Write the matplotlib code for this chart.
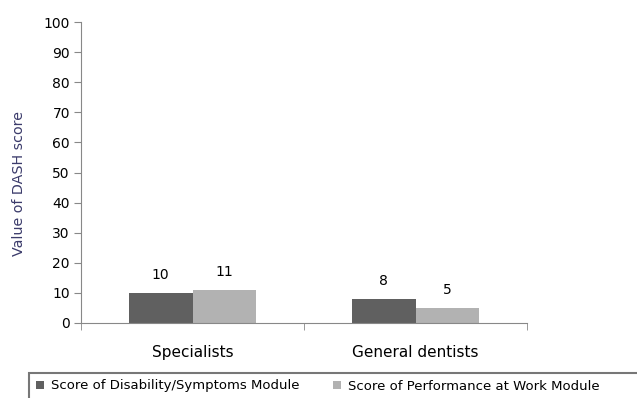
import matplotlib.pyplot as plt
from matplotlib.patches import Rectangle
import numpy as np

categories = ['Specialists', 'General dentists']
disability = [10, 8]
performance = [11, 5]
series_names = ['Score of Disability/Symptoms Module', 'Score of Performance at Work Module']
colors = ['#606060', '#b2b2b2']

fig = plt.figure(figsize=(6.37, 3.98), dpi=100)
ax = fig.add_axes([81/637, 1-323/398, 446/637, 301/398])

x = np.arange(len(categories))
w = 0.285
b1 = ax.bar(x - w/2, disability, w, color=colors[0], label=series_names[0])
b2 = ax.bar(x + w/2, performance, w, color=colors[1], label=series_names[1])
for bars, vals in ((b1, disability), (b2, performance)):
    for r, v in zip(bars, vals):
        ax.text(r.get_x() + r.get_width()/2, v + 6, str(v), ha='center', va='center', fontsize=10)

ax.set_xlim(-0.5, len(categories) - 0.5)
ax.set_ylim(0, 100)
ax.set_yticks(range(0, 101, 10))
ax.set_xticks(x)
ax.set_xticklabels(categories, fontsize=11)
ax.set_xticks(np.arange(-0.5, len(categories), 1), minor=True)
ax.tick_params(axis='x', which='major', length=0, pad=16)
ax.tick_params(axis='x', which='minor', length=5, color='#888888', direction='out')
ax.tick_params(axis='y', length=5, color='#888888', labelsize=10, pad=3)
for s in ['top', 'right']:
    ax.spines[s].set_visible(False)
for s in ['left', 'bottom']:
    ax.spines[s].set_color('#888888')
ax.set_ylabel('Value of DASH score', fontsize=10.3, color='#3b3b6b')
ax.yaxis.set_label_coords(-0.124, 0.462)

fig.patches.append(Rectangle((29/637, -0.05), 1.1, 0.05 + 1 - 373/398, transform=fig.transFigure,
                             fill=False, edgecolor='#777777', linewidth=1.5))
fig.legend(loc='center left', bbox_to_anchor=(36/637, 1-386/398), ncol=2, frameon=False,
           fontsize=9.5, handlelength=0.6, handleheight=0.6, handletextpad=0.5, columnspacing=2.6,
           borderpad=0, borderaxespad=0)

fig.savefig('out.png', dpi=100)
